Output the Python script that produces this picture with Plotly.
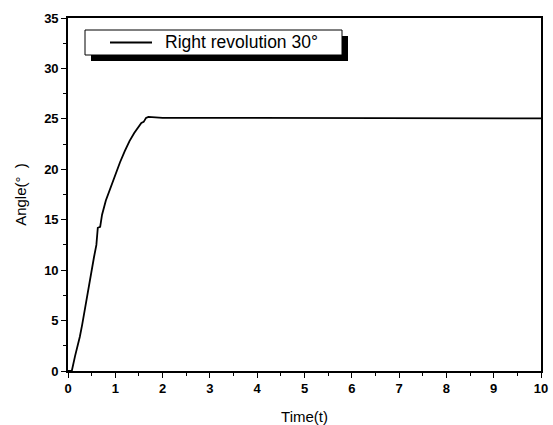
import plotly.graph_objects as go

# Measured angle response for a 30° right revolution command
time_s = [0.0, 0.08, 0.15, 0.2, 0.25, 0.3, 0.35, 0.4, 0.45, 0.5, 0.55, 0.6, 0.63, 0.68,
          0.72, 0.8, 0.9, 1.0, 1.1, 1.2, 1.3, 1.4, 1.5, 1.55, 1.6, 1.65, 1.7, 2.0,
          3.0, 4.0, 5.0, 6.0, 7.0, 8.0, 9.0, 10.0]
angle_deg = [0.0, 0.0, 1.5, 2.4, 3.4, 4.6, 6.0, 7.5, 8.7, 10.0, 11.3, 12.5, 14.2, 14.3,
             15.5, 16.9, 18.2, 19.5, 20.7, 21.8, 22.8, 23.6, 24.3, 24.6, 24.7, 25.1, 25.2, 25.1,
             25.1, 25.1, 25.1, 25.1, 25.05, 25.05, 25.05, 25.05]

series_name = "Right revolution 30°"
x_ticks = list(range(0, 11))
y_ticks = list(range(0, 36, 5))

W, H = 553, 425
L, R, T, B = 68, 12, 18, 54
pw, ph = W - L - R, H - T - B
FONT = "Liberation Sans, Arial"


def px(x):
    return (x - L) / pw


def py(y):
    return (H - B - y) / ph


fig = go.Figure()
fig.add_trace(go.Scatter(x=time_s, y=angle_deg, mode="lines", name=series_name,
                         line=dict(color="black", width=1.8), showlegend=False))

tickfont = dict(family=FONT, size=13, color="black")
axis_common = dict(showgrid=False, zeroline=False, showline=True, linecolor="black",
                   linewidth=1.6, mirror=True, ticks="outside", ticklen=5,
                   tickwidth=1.4, tickcolor="black", tickfont=tickfont, automargin=False)

fig.update_xaxes(range=[0, 10], tickvals=x_ticks, ticktext=[f"<b>{v}</b>" for v in x_ticks],
                 minor=dict(dtick=0.5, ticks="outside", ticklen=3, tickcolor="black"),
                 title=dict(text="Time(t)", font=dict(family=FONT, size=15, color="black"), standoff=16),
                 **axis_common)
fig.update_yaxes(range=[0, 35], tickvals=y_ticks, ticktext=[f"<b>{v}</b>" for v in y_ticks],
                 minor=dict(dtick=2.5, ticks="outside", ticklen=3, tickcolor="black"),
                 title=dict(text="Angle(°  )", font=dict(family=FONT, size=15, color="black"), standoff=14),
                 **axis_common)

# Legend box with drop shadow, drawn in paper coordinates
box_l, box_r, box_t, box_b = 85, 342, 30, 55
shadow = 6
fig.add_shape(type="rect", xref="paper", yref="paper",
              x0=px(box_l + shadow), x1=px(box_r + shadow), y0=py(box_b + shadow), y1=py(box_t + shadow),
              fillcolor="black", line=dict(width=0))
fig.add_shape(type="rect", xref="paper", yref="paper",
              x0=px(box_l), x1=px(box_r), y0=py(box_b), y1=py(box_t),
              fillcolor="white", line=dict(color="black", width=1))
mid = (box_t + box_b) / 2
fig.add_shape(type="line", xref="paper", yref="paper",
              x0=px(110), x1=px(152), y0=py(mid), y1=py(mid),
              line=dict(color="black", width=1.8))
fig.add_annotation(xref="paper", yref="paper", x=px(163), y=py(mid), text=series_name,
                   showarrow=False, xanchor="left", yanchor="middle",
                   font=dict(family=FONT, size=17.5, color="black"))

fig.update_layout(width=W, height=H, margin=dict(l=L, r=R, t=T, b=B),
                  plot_bgcolor="white", paper_bgcolor="white")

fig.write_html("out.html")
